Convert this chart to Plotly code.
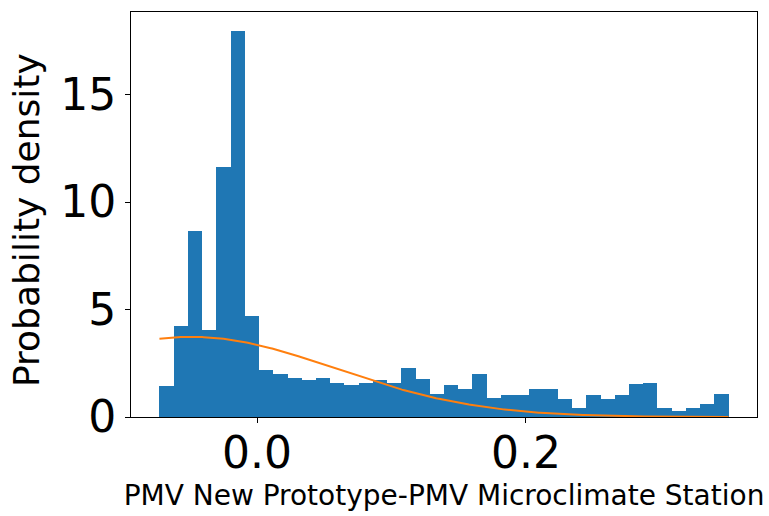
import numpy as np
import plotly.graph_objects as go

# Histogram of the PMV difference (density-normalised, 40 bins)
hist_range = (-0.0726, 0.3507)
n_bins = 40
density = [
    1.46, 4.24, 8.65, 4.06, 11.61, 17.94, 4.70, 2.20, 2.00, 1.81,
    1.74, 1.81, 1.58, 1.50, 1.58, 1.74, 1.58, 2.28, 1.76, 1.06,
    1.48, 1.31, 2.00, 0.89, 1.04, 1.04, 1.31, 1.31, 0.85, 0.42,
    1.04, 0.86, 1.04, 1.55, 1.58, 0.42, 0.29, 0.42, 0.61, 1.06,
]

# Fitted normal distribution
fit_mu = -0.049
fit_sigma = 0.107

x_ticks = [0.0, 0.2]
x_tick_text = ["0.0", "0.2"]
y_ticks = [0, 5, 10, 15]
y_tick_text = ["0", "5", "10", "15"]

edges = np.linspace(hist_range[0], hist_range[1], n_bins + 1)
centers = (edges[:-1] + edges[1:]) / 2
bin_w = edges[1] - edges[0]

xs = np.linspace(hist_range[0], hist_range[1], 400)
pdf = np.exp(-((xs - fit_mu) ** 2) / (2 * fit_sigma ** 2)) / (fit_sigma * np.sqrt(2 * np.pi))

span = hist_range[1] - hist_range[0]
x_lim = [hist_range[0] - 0.05 * span, hist_range[1] + 0.05 * span]
y_lim = [0, 1.05 * max(density)]

FONT = "DejaVu Sans"

fig = go.Figure()
fig.add_trace(go.Bar(
    x=centers, y=density, width=bin_w,
    marker=dict(color="#1f77b4", line=dict(width=0)),
    showlegend=False,
))
fig.add_trace(go.Scatter(
    x=xs, y=pdf, mode="lines",
    line=dict(color="#ff7f0e", width=2),
    showlegend=False,
))

fig.update_layout(
    width=769, height=516,
    margin=dict(l=131, r=11, t=11, b=98, pad=0),
    paper_bgcolor="white", plot_bgcolor="white",
    bargap=0,
    font=dict(family=FONT, color="black"),
)
fig.update_xaxes(
    range=x_lim, tickvals=x_ticks, ticktext=x_tick_text,
    ticks="outside", ticklen=5, tickwidth=1, tickcolor="black",
    tickfont=dict(size=44, family=FONT, color="black"),
    ticklabelstandoff=-8,
    showline=True, mirror=True, linecolor="black", linewidth=1,
    showgrid=False, zeroline=False,
    title=dict(text="PMV New Prototype-PMV Microclimate Station",
               font=dict(size=28, family=FONT, color="black"), standoff=8),
)
fig.update_yaxes(
    range=y_lim, tickvals=y_ticks, ticktext=y_tick_text,
    ticks="outside", ticklen=5, tickwidth=1, tickcolor="black",
    tickfont=dict(size=44, family=FONT, color="black"),
    showline=True, mirror=True, linecolor="black", linewidth=1,
    showgrid=False, zeroline=False,
)

# y-axis label, placed as a rotated annotation
fig.add_annotation(
    text="Probability density", textangle=-90,
    xref="paper", yref="paper", x=0, y=0.5,
    xanchor="left", yanchor="middle", xshift=-127, yshift=-6,
    showarrow=False,
    font=dict(size=36, family=FONT, color="black"),
)

fig.write_html("out.html", config={"displayModeBar": False})
